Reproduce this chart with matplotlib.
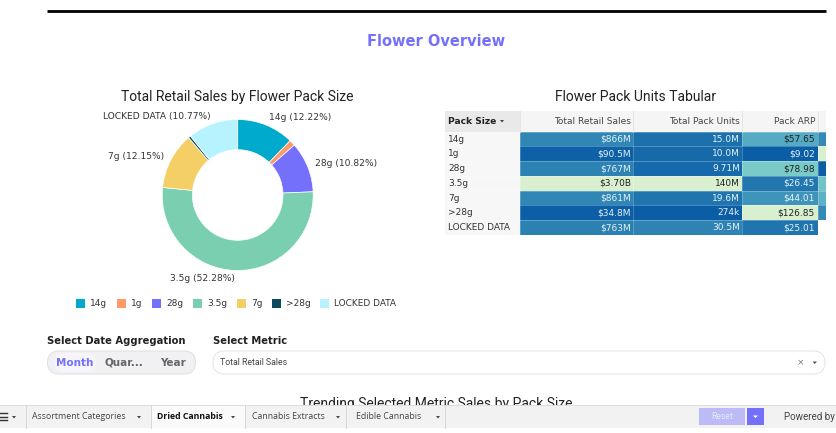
import numpy as np
import matplotlib
matplotlib.use("Agg")
import matplotlib.pyplot as plt
from matplotlib.colors import LinearSegmentedColormap
from matplotlib.patches import FancyBboxPatch, Rectangle, Polygon

pack_sizes = ["14g", "1g", "28g", "3.5g", "7g", ">28g", "LOCKED DATA"]
share = [12.22, 1.28, 10.82, 52.28, 12.15, 0.49, 10.77]
pie_labels = ["14g (12.22%)", "", "28g (10.82%)", "3.5g (52.28%)", "7g (12.15%)", "", "LOCKED DATA (10.77%)"]
pie_colors = ["#00aacc", "#ff9966", "#7570fb", "#7acfb0", "#f3cf65", "#0d4a5e", "#b7f2ff"]

retail_sales = [866, 90.5, 767, 3700, 861, 34.8, 763]
pack_units = [15.0, 10.0, 9.71, 140, 19.6, 0.274, 30.5]
pack_arp = [57.65, 9.02, 78.98, 26.45, 44.01, 126.85, 25.01]
next_col = [0.25, 1.0, 0.0, 0.55, 0.45, 0.25, np.nan]

retail_text = ["$866M", "$90.5M", "$767M", "$3.70B", "$861M", "$34.8M", "$763M"]
units_text = ["15.0M", "10.0M", "9.71M", "140M", "19.6M", "274k", "30.5M"]
arp_text = ["$57.65", "$9.02", "$78.98", "$26.45", "$44.01", "$126.85", "$25.01"]
headers = ["Total Retail Sales", "Total Pack Units", "Pack ARP"]

tabs = ["Assortment Categories", "Dried Cannabis", "Cannabis Extracts", "Edible Cannabis"]

W, H = 837, 433
TXT = "#333333"
PURPLE = "#7570fb"
plt.rcParams["font.family"] = ["DejaVu Sans"]
fig = plt.figure(figsize=(W / 100, H / 100), dpi=100)

# page layer in pixel coordinates
page = fig.add_axes([0, 0, 1, 1])
page.set_xlim(0, W)
page.set_ylim(H, 0)
page.axis("off")


def pixel_axes(x, y, w, h):
    return fig.add_axes([x / W, 1 - (y + h) / H, w / W, h / H])


page.plot([47, 826], [11, 11], color="black", lw=2, solid_capstyle="butt")
page.text(436.5, 41, "Flower Overview", color=PURPLE, fontsize=10.5, fontweight="bold", ha="center", va="center")
page.text(237.5, 97, "Total Retail Sales by Flower Pack Size", family="Roboto", fontsize=10, color="#222222", ha="center", va="center")
page.text(635.5, 97, "Flower Pack Units Tabular", family="Roboto", fontsize=10, color="#222222", ha="center", va="center")

# donut
R = 75.5
ax = pixel_axes(237.7 - 1.3 * R, 195 - 1.3 * R, 2.6 * R, 2.6 * R)
wedges, texts = ax.pie(share, labels=pie_labels, colors=pie_colors, startangle=90, counterclock=False,
                       labeldistance=1.1, wedgeprops=dict(width=0.4, edgecolor="white", linewidth=0.5),
                       textprops=dict(fontsize=6.6, color=TXT))
ax.set_xlim(-1.3, 1.3)
ax.set_ylim(-1.3, 1.3)

# legend
leg_x = [76, 117, 152, 193, 237, 272, 320]
for x, name, c in zip(leg_x, pack_sizes, pie_colors):
    page.add_patch(Rectangle((x, 299), 9, 9, color=c, lw=0))
    page.text(x + 14, 304, name, fontsize=6.5, color=TXT, va="center")

# table
col_x = [520, 633, 742, 818, 826]
row_top = 131.7
row_h = 14.75
row_y = row_top + row_h * np.arange(8)
cmap = LinearSegmentedColormap.from_list("heat", [(0, "#0b5da5"), (0.23, "#3086b5"), (0.42, "#57adc4"),
                                                  (0.6, "#7cccc8"), (1, "#d9f0d0")])
cmap.set_bad("white")
cells = np.array([np.array(retail_sales) / max(retail_sales), np.array(pack_units) / max(pack_units),
                  (np.array(pack_arp) - min(pack_arp)) / (max(pack_arp) - min(pack_arp)), next_col]).T
page.pcolormesh(col_x, row_y, np.ma.masked_invalid(cells), cmap=cmap, vmin=0, vmax=1)
for y in row_y:
    page.plot([445, 826], [y, y], color="white", alpha=0.3, lw=0.6)
for x in col_x[:-1]:
    page.plot([x, x], [row_top, row_y[-1]], color="white", alpha=0.25, lw=0.6)
page.add_patch(Rectangle((445, 110.7), 75, 21, color="#e9e9e9", lw=0))
page.add_patch(Rectangle((520, 110.7), 306, 21, color="#f5f5f5", lw=0))
page.add_patch(Rectangle((445, row_top), 75, row_h * 7, color="#f7f7f7", lw=0))
for x in col_x[:-1]:
    page.plot([x, x], [110.7, 131.7], color="#e2e2e2", lw=0.6)
page.text(448.5, 121.5, "Pack Size", fontsize=6.6, fontweight="bold", color="#222222", va="center")
page.add_patch(Polygon([(500, 120), (504, 120), (502, 122.5)], color="#444444", lw=0))
for right, name in zip([631, 740, 815], headers):
    page.text(right, 121.5, name, fontsize=6.5, color="#444444", ha="right", va="center")
for i, name in enumerate(pack_sizes):
    y = row_top + row_h * (i + 0.5)
    page.text(448, y, name, fontsize=6.5, color=TXT, va="center")
    for j, (right, col) in enumerate(zip([631, 740, 815], [retail_text, units_text, arp_text])):
        page.text(right, y, col[i], fontsize=6.5, ha="right", va="center",
                  color="#222222" if cells[i, j] > 0.38 else "#e4f2f6")

# controls
page.text(47.5, 340.5, "Select Date Aggregation", fontsize=7.2, fontweight="bold", color="#222222", va="center")
page.text(213, 340.5, "Select Metric", fontsize=7.2, fontweight="bold", color="#222222", va="center")
page.add_patch(FancyBboxPatch((47.5, 351), 148, 23, boxstyle="round,pad=0,rounding_size=11.5",
                              fc="#f1f1f3", ec="#e2e2e2", lw=0.8))
page.add_patch(FancyBboxPatch((54, 353), 42, 19, boxstyle="round,pad=0,rounding_size=9.5",
                              fc="#f5f5fb", ec="none"))
page.text(75, 362.5, "Month", fontsize=7.5, fontweight="bold", color=PURPLE, ha="center", va="center")
page.text(124, 362.5, "Quar...", fontsize=7.5, fontweight="bold", color="#666666", ha="center", va="center")
page.text(173, 362.5, "Year", fontsize=7.5, fontweight="bold", color="#666666", ha="center", va="center")
page.add_patch(FancyBboxPatch((213, 351), 612, 23, boxstyle="round,pad=0,rounding_size=11.5",
                              fc="white", ec="#e6e6e6", lw=0.8))
page.text(220, 362.5, "Total Retail Sales", family="Roboto", fontsize=6.3, color="#444444", va="center")
page.text(801, 362.5, "×", fontsize=6.5, color="#777777", ha="center", va="center")
page.add_patch(Polygon([(812.5, 361.5), (817, 361.5), (814.7, 364)], color="#555555", lw=0))

# trending title sits under the tab bar
page.text(436, 404, "Trending Selected Metric Sales by Pack Size", family="Roboto", fontsize=10, color="#222222",
          ha="center", va="center", zorder=1)

# bottom tab bar
page.add_patch(Rectangle((0, 405), W, 23, color="#f2f2f2", lw=0, zorder=2))
page.plot([0, W], [405, 405], color="#dddddd", lw=0.7, zorder=3)
page.add_patch(Rectangle((151, 405), 94, 23, color="#fafafa", lw=0, zorder=2))
for x in [26, 151, 245, 346, 445]:
    page.plot([x, x], [405, 428], color="#d8d8d8", lw=0.7, zorder=3)
for y in [413, 416.5, 420]:
    page.plot([0, 7], [y, y], color="#333333", lw=1, zorder=3)
page.add_patch(Polygon([(12, 416), (16, 416), (14, 418.5)], color="#444444", lw=0, zorder=3))
for x, name, arrow in zip([32, 157, 252, 356], tabs, [137, 231, 336, 436]):
    active = name == "Dried Cannabis"
    page.text(x, 416.5, name, family="Open Sans", fontsize=6.3, color="#111111" if active else "#444444",
              fontweight="bold" if active else "normal", va="center", zorder=4)
    page.add_patch(Polygon([(arrow, 416), (arrow + 4, 416), (arrow + 2, 418.5)], color="#444444", lw=0, zorder=4))
page.add_patch(Rectangle((699, 408), 46, 17, color="#bdbbf5", lw=0, zorder=3))
page.text(722, 416.5, "Reset", family="Roboto", fontsize=6.2, color="#e8e8fb", ha="center", va="center", zorder=4)
page.add_patch(Rectangle((747, 408), 17, 17, color=PURPLE, lw=0, zorder=3))
page.add_patch(Polygon([(753, 415.5), (758, 415.5), (755.5, 418)], color="white", lw=0, zorder=4))
page.text(784, 416.5, "Powered by", family="Roboto", fontsize=7, color="#444444", va="center", zorder=4)

fig.savefig("out.png", dpi=100)
